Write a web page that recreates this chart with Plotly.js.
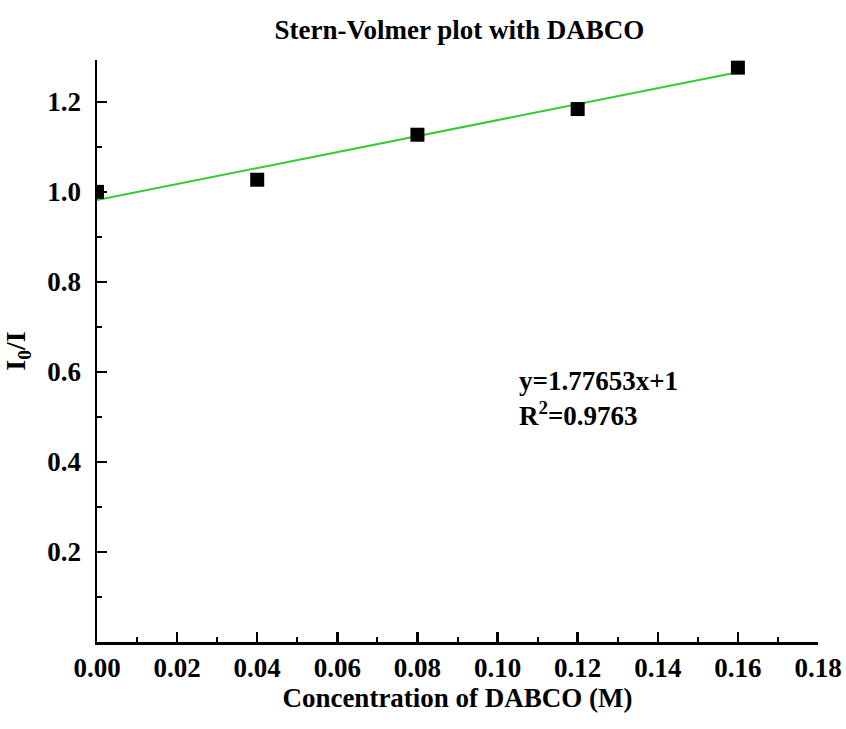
<!DOCTYPE html>
<html>
<head>
<meta charset="utf-8">
<script src="https://cdn.plot.ly/plotly-3.0.1.min.js"></script>
<style>html,body{margin:0;padding:0;background:#fff;}#chart{width:846px;height:729px;}</style>
</head>
<body>
<div id="chart"></div>
<script>
// Data
const concentration = [0, 0.04, 0.08, 0.12, 0.16];
const ratio = [1.0, 1.027, 1.127, 1.184, 1.276];
// Linear fit line endpoints (as drawn)
const fitX = [0, 0.16];
const fitY = [0.982, 1.266];
const xTicks = [0, 0.02, 0.04, 0.06, 0.08, 0.10, 0.12, 0.14, 0.16, 0.18];
const xTickText = ['0.00','0.02','0.04','0.06','0.08','0.10','0.12','0.14','0.16','0.18'];
const yTicks = [0.2, 0.4, 0.6, 0.8, 1.0, 1.2];
const yTickText = ['0.2','0.4','0.6','0.8','1.0','1.2'];
const equationText = 'y=1.77653x+1<br>R<sup>2</sup>=0.9763';

const font = 'Liberation Serif, Times New Roman, serif';

const traces = [
  {
    x: fitX, y: fitY, mode: 'lines', type: 'scatter',
    line: {color: '#33cc33', width: 2}, hoverinfo: 'skip', showlegend: false
  },
  {
    x: concentration, y: ratio, mode: 'markers', type: 'scatter',
    marker: {symbol: 'square', size: 14, color: '#000'}, showlegend: false
  }
];

const layout = {
  width: 846, height: 729,
  margin: {l: 97, r: 28, t: 60, b: 87},
  paper_bgcolor: '#fff', plot_bgcolor: '#fff',
  font: {family: font, color: '#000', size: 27},
  title: {text: '<b>Stern-Volmer plot with DABCO</b>', font: {family: font, size: 27, color: '#000'}, x: 0.543, xanchor: 'center', y: 0.96, yanchor: 'middle'},
  xaxis: {
    range: [0, 0.18], tickvals: xTicks, ticktext: xTickText,
    showgrid: false, zeroline: false, showline: true, linecolor: '#000', linewidth: 2.5,
    ticks: 'inside', ticklen: 10, tickwidth: 2.5, tickcolor: '#000',
    tickfont: {family: font, size: 27, weight: 'bold'}, ticklabelstandoff: 0,
    minor: {dtick: 0.01, tick0: 0, ticks: 'inside', ticklen: 5, tickwidth: 2, tickcolor: '#000', showgrid: false},
    title: {text: '<b>Concentration of DABCO (M)</b>', font: {family: font, size: 27}, standoff: 0}
  },
  yaxis: {
    range: [0, 1.293], tickvals: yTicks, ticktext: yTickText,
    showgrid: false, zeroline: false, showline: true, linecolor: '#000', linewidth: 2.5,
    ticks: 'inside', ticklen: 10, tickwidth: 2.5, tickcolor: '#000',
    tickfont: {family: font, size: 27, weight: 'bold'}, ticklabelstandoff: 8,
    minor: {dtick: 0.1, tick0: 0, ticks: 'inside', ticklen: 5, tickwidth: 2, tickcolor: '#000', showgrid: false},
    title: {text: '<b>I<sub>0</sub>/I</b>', font: {family: font, size: 28}, standoff: 14}
  },
  annotations: [{
    x: 0.1049, y: 0.54, xref: 'x', yref: 'y', xanchor: 'left', yanchor: 'middle',
    text: '<b>' + equationText + '</b>', showarrow: false, align: 'left',
    font: {family: font, size: 27, color: '#000'}
  }]
};

Plotly.newPlot('chart', traces, layout, {displayModeBar: false, staticPlot: true});
</script>
</body>
</html>
